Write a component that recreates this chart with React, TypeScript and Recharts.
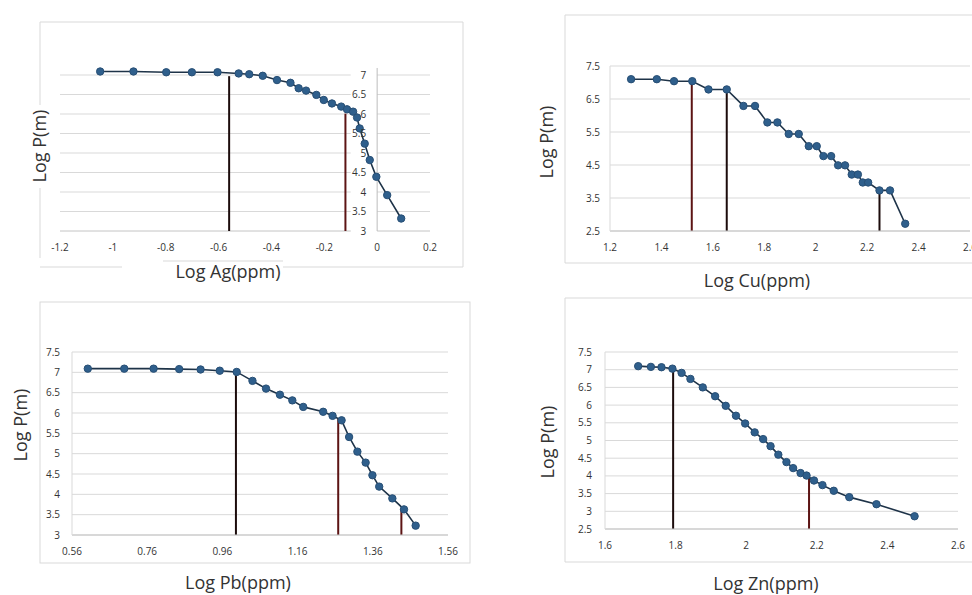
import React from 'react';
import { LineChart, Line, XAxis, YAxis, CartesianGrid, ReferenceLine, ReferenceDot } from 'recharts';

// Log Ag
const agX = [-1.048, -0.922, -0.798, -0.701, -0.604, -0.524, -0.484, -0.433, -0.379, -0.328, -0.297, -0.269, -0.23, -0.202, -0.171, -0.136, -0.114, -0.091, -0.076, -0.066, -0.047, -0.028, -0.003, 0.038, 0.091];
const agY = [7.09, 7.09, 7.07, 7.07, 7.07, 7.04, 7.02, 6.98, 6.87, 6.8, 6.66, 6.6, 6.49, 6.36, 6.27, 6.19, 6.12, 6.06, 5.91, 5.63, 5.24, 4.82, 4.39, 3.92, 3.32];
const agXTicks = [-1.2, -1, -0.8, -0.6, -0.4, -0.2, 0, 0.2];
const agYTicks = [3, 3.5, 4, 4.5, 5, 5.5, 6, 6.5, 7];
const agSplitX = [-0.56, -0.12];
const agSplitTop = [6.97, 6.01];

// Log Cu
const cuX = [1.282, 1.382, 1.449, 1.52, 1.583, 1.654, 1.719, 1.764, 1.812, 1.851, 1.895, 1.934, 1.973, 2.004, 2.03, 2.06, 2.087, 2.114, 2.14, 2.164, 2.183, 2.204, 2.248, 2.289, 2.348];
const cuY = [7.1, 7.1, 7.04, 7.04, 6.79, 6.79, 6.29, 6.29, 5.79, 5.79, 5.44, 5.44, 5.07, 5.07, 4.77, 4.77, 4.49, 4.49, 4.21, 4.21, 3.97, 3.97, 3.73, 3.73, 2.72];
const cuXTicks = [1.2, 1.4, 1.6, 1.8, 2, 2.2, 2.4, 2.6];
const cuYTicks = [2.5, 3.5, 4.5, 5.5, 6.5, 7.5];
const cuSplitX = [1.518, 1.654, 2.248];
const cuSplitTop = [7.04, 6.77, 3.73];

// Log Pb
const pbX = [0.602, 0.699, 0.777, 0.845, 0.902, 0.953, 0.998, 1.04, 1.076, 1.113, 1.146, 1.175, 1.228, 1.253, 1.277, 1.297, 1.319, 1.341, 1.359, 1.377, 1.412, 1.443, 1.474];
const pbY = [7.09, 7.09, 7.09, 7.08, 7.07, 7.04, 7.01, 6.79, 6.6, 6.45, 6.31, 6.15, 6.03, 5.93, 5.82, 5.41, 5.05, 4.78, 4.47, 4.19, 3.9, 3.63, 3.23];
const pbXTicks = [0.56, 0.76, 0.96, 1.16, 1.36, 1.56];
const pbYTicks = [3, 3.5, 4, 4.5, 5, 5.5, 6, 6.5, 7, 7.5];
const pbSplitX = [0.996, 1.268, 1.436];
const pbSplitTop = [7.01, 5.86, 3.65];

// Log Zn
const znX = [1.694, 1.73, 1.76, 1.791, 1.817, 1.842, 1.877, 1.912, 1.942, 1.971, 1.997, 2.024, 2.048, 2.069, 2.091, 2.114, 2.133, 2.154, 2.171, 2.192, 2.216, 2.248, 2.292, 2.369, 2.477];
const znY = [7.1, 7.08, 7.07, 7.03, 6.91, 6.74, 6.5, 6.25, 5.98, 5.7, 5.48, 5.23, 5.04, 4.84, 4.6, 4.39, 4.22, 4.08, 4.01, 3.87, 3.74, 3.58, 3.4, 3.2, 2.86];
const znXTicks = [1.6, 1.8, 2, 2.2, 2.4, 2.6];
const znYTicks = [2.5, 3, 3.5, 4, 4.5, 5, 5.5, 6, 6.5, 7, 7.5];
const znSplitX = [1.793, 2.178];
const znSplitTop = [7.0, 3.94];

const TICK_FONT = '"Open Sans", sans-serif';
const TITLE_FONT = '"Open Sans", sans-serif';
const LINE_COLOR = '#1e3348';
const DOT_FILL = '#2f5f8c';
const GRID = '#d9d9d9';
const DARK = '#1c0c0c';
const RED = '#5c1414';

interface PanelProps {
  xs: number[];
  ys: number[];
  xTicks: number[];
  yTicks: number[];
  splitX: number[];
  splitTop: number[];
  splitColors: string[];
  box: [number, number, number, number]; // left, top, width, height
  plot: [number, number, number, number]; // x0, y0, x1, y1 (page px)
  yTop?: number;
  yAtZero?: boolean;
  yTickSize?: number;
}

function Panel({ xs, ys, xTicks, yTicks, splitX, splitTop, splitColors, box, plot, yTop, yAtZero, yTickSize = 10 }: PanelProps) {
  const data = xs.map((x, i) => ({ x, y: ys[i] }));
  const [bx, by, bw, bh] = box;
  const [x0, y0, x1, y1] = plot;
  const yW = yAtZero ? 0 : 40;
  const xH = 30;
  const margin = {
    left: x0 - bx - yW,
    top: y0 - by,
    right: bx + bw - x1,
    bottom: by + bh - y1 - xH,
  };
  const xMin = xTicks[0];
  const xMax = xTicks[xTicks.length - 1];
  const yMin = yTicks[0];
  const yMax = yTicks[yTicks.length - 1];
  const tickStyle = { fontSize: 10, fill: '#333333', fontFamily: TICK_FONT };

  return (
    <div style={{ position: 'absolute', left: bx, top: by }}>
      <LineChart width={bw} height={bh} data={data} margin={margin}>
        {!yAtZero && <CartesianGrid vertical={false} stroke={GRID} strokeWidth={1} />}
        <XAxis
          type="number"
          dataKey="x"
          domain={[xMin, xMax]}
          ticks={xTicks}
          interval={0}
          allowDataOverflow
          height={xH}
          tickLine={false}
          tickSize={11}
          axisLine={yAtZero ? false : { stroke: '#c4c4c4' }}
          tick={tickStyle}
        />
        <YAxis
          type="number"
          dataKey="y"
          domain={[yMin, yTop ?? yMax]}
          ticks={yTicks}
          interval={0}
          allowDataOverflow
          hide={!!yAtZero}
          width={yW}
          tickLine={false}
          tickSize={yTickSize}
          axisLine={{ stroke: GRID }}
          tick={tickStyle}
        />
        {yAtZero &&
          yTicks.map((v) => (
            <ReferenceLine
              key={`gl-${v}`}
              segment={[{ x: xMin, y: v }, { x: -0.1, y: v }]}
              stroke={v === yMin ? '#c4c4c4' : GRID}
              ifOverflow="visible"
            />
          ))}
        {yAtZero &&
          yTicks.map((v) => (
            <ReferenceLine
              key={`gr-${v}`}
              segment={[{ x: 0, y: v }, { x: xMax, y: v }]}
              stroke={v === yMin ? '#c4c4c4' : GRID}
              ifOverflow="visible"
            />
          ))}
        {yAtZero && (
          <ReferenceLine
            segment={[{ x: 0, y: yMin }, { x: 0, y: yMax + 0.18 }]}
            stroke="#bdbdbd"
            ifOverflow="visible"
          />
        )}
        {yAtZero &&
          yTicks.map((v) => (
            <ReferenceDot
              key={`yl-${v}`}
              x={0}
              y={v}
              r={0}
              fill="none"
              stroke="none"
              ifOverflow="visible"
              label={{ value: String(v), position: 'left', offset: 11, ...tickStyle }}
            />
          ))}
        {splitX.map((sx, i) => (
          <ReferenceLine
            key={`sp-${i}`}
            segment={[{ x: sx, y: yMin }, { x: sx, y: splitTop[i] }]}
            stroke={splitColors[i]}
            strokeWidth={2}
            ifOverflow="visible"
          />
        ))}
        <Line
          type="linear"
          dataKey="y"
          stroke={LINE_COLOR}
          strokeWidth={1.6}
          dot={{ r: 3.7, fill: DOT_FILL, stroke: '#284f75', strokeWidth: 1 }}
          isAnimationActive={false}
        />
      </LineChart>
    </div>
  );
}

export default function App() {
  const frame = GRID;
  return (
    <div
      style={{
        position: 'absolute',
        left: 0,
        top: 0,
        width: 972,
        height: 595,
        overflow: 'hidden',
        background: '#ffffff',
      }}
    >
      <svg width={972} height={595} style={{ position: 'absolute', left: 0, top: 0 }}>
        {/* panel frames */}
        <g stroke={frame} strokeWidth={1} fill="none">
          <line x1={40} y1={22} x2={463} y2={22} />
          <line x1={40} y1={22} x2={40} y2={105} />
          <line x1={40} y1={188} x2={40} y2={258} />
          <line x1={463} y1={22} x2={463} y2={267} />
          <line x1={40} y1={267} x2={122} y2={267} />
          <line x1={163} y1={261} x2={283} y2={261} />
          <line x1={283} y1={267} x2={463} y2={267} />

          <line x1={565} y1={15} x2={972} y2={15} />
          <line x1={565} y1={15} x2={565} y2={263} />
          <line x1={565} y1={263} x2={972} y2={263} />

          <rect x={40} y={302} width={430} height={261} />

          <line x1={565} y1={298} x2={972} y2={298} />
          <line x1={565} y1={298} x2={565} y2={562} />
          <line x1={565} y1={562} x2={972} y2={562} />
        </g>
        <g fontFamily={TITLE_FONT} fontSize={18} fill="#333333" textAnchor="middle" dominantBaseline="central">
          <text x={228} y={271}>Log Ag(ppm)</text>
          <text x={757} y={280}>Log Cu(ppm)</text>
          <text x={238} y={582}>Log Pb(ppm)</text>
          <text x={766} y={583}>Log Zn(ppm)</text>
          <text transform="translate(39,146) rotate(-90)">Log P(m)</text>
          <text transform="translate(546,142) rotate(-90)">Log P(m)</text>
          <text transform="translate(20,425) rotate(-90)">Log P(m)</text>
          <text transform="translate(547,442) rotate(-90)">Log P(m)</text>
        </g>
      </svg>

      <Panel
        xs={agX}
        ys={agY}
        xTicks={agXTicks}
        yTicks={agYTicks}
        splitX={agSplitX}
        splitTop={agSplitTop}
        splitColors={[DARK, RED]}
        box={[0, 0, 480, 300]}
        plot={[60, 65.25, 430, 231]}
        yTop={7.25}
        yAtZero
      />
      <Panel
        xs={cuX}
        ys={cuY}
        xTicks={cuXTicks}
        yTicks={cuYTicks}
        splitX={cuSplitX}
        splitTop={cuSplitTop}
        splitColors={[RED, DARK, DARK]}
        box={[500, 0, 472, 300]}
        plot={[610, 66, 970, 231]}
        yTickSize={8}
      />
      <Panel
        xs={pbX}
        ys={pbY}
        xTicks={pbXTicks}
        yTicks={pbYTicks}
        splitX={pbSplitX}
        splitTop={pbSplitTop}
        splitColors={[DARK, RED, RED]}
        box={[0, 300, 480, 295]}
        plot={[72, 352, 448, 535]}
        yTickSize={10}
      />
      <Panel
        xs={znX}
        ys={znY}
        xTicks={znXTicks}
        yTicks={znYTicks}
        splitX={znSplitX}
        splitTop={znSplitTop}
        splitColors={[DARK, RED]}
        box={[500, 300, 472, 295]}
        plot={[605, 352, 958, 529]}
        yTickSize={11}
      />
    </div>
  );
}
